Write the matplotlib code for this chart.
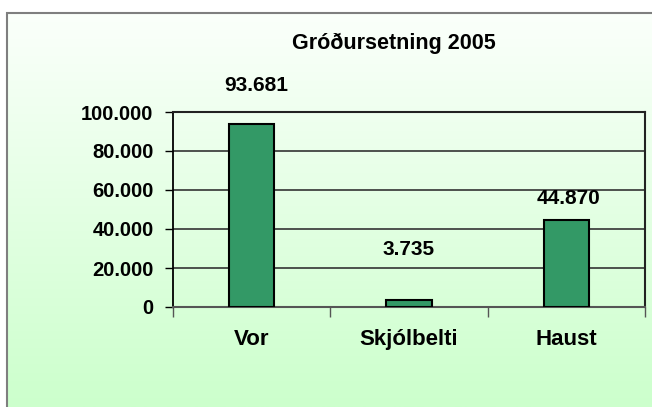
# grodursetning_2005.py
# Bar chart of plantings in 2005 (Vor / Skjólbelti / Haust), Excel-style look.

import numpy as np
import matplotlib
matplotlib.use("Agg")
import matplotlib.pyplot as plt
from matplotlib.ticker import FuncFormatter, FixedLocator
from matplotlib.colors import LinearSegmentedColormap
from matplotlib.patches import Rectangle

plt.rcParams["font.family"] = ["Liberation Sans", "DejaVu Sans"]
plt.rcParams["font.weight"] = "bold"

# data
categories = ["Vor", "Skjólbelti", "Haust"]
values = [93681, 3735, 44870]
title = "Gróðursetning 2005"

# label offsets (pixels) above each bar top, as placed in the original
label_dx = [5, 0, 2]
label_dy = [39, 50, 21]

W, H = 652, 407
fig = plt.figure(figsize=(W / 100, H / 100), dpi=100)
fig.patch.set_facecolor("white")

# chart area: gradient fill white -> light green, gray frame
bx0, by0 = 7 / W, 0.0
bg = fig.add_axes([bx0, by0, 1 - bx0 + 0.01, 1 - 13 / H - by0])
cmap = LinearSegmentedColormap.from_list("g", ["#fbfffb", "#ccffcc"])
grad = np.linspace(0, 1, 256).reshape(-1, 1)
bg.imshow(grad, aspect="auto", cmap=cmap, extent=[0, 1, 0, 1], origin="upper")
bg.set_xlim(0, 1)
bg.set_ylim(0, 1)
bg.axis("off")
bg.add_patch(Rectangle((0.0, -0.1), 1.2, 1.1, fill=False, edgecolor="#7f7f7f",
                       linewidth=1.5, transform=bg.transAxes, clip_on=False))

# plot area
left, right, top, bottom = 173, 645, 112, 307
ax = fig.add_axes([left / W, 1 - bottom / H, (right - left) / W, (bottom - top) / H])
ax.set_facecolor("none")

x = np.arange(len(categories))
bars = ax.bar(x, values, width=0.29, color="#339966", edgecolor="black",
              linewidth=1.5, zorder=3)

ax.set_xlim(-0.5, len(categories) - 0.5)
ax.set_ylim(0, 100000)
ax.set_yticks(np.arange(0, 100001, 20000))
ax.yaxis.set_major_formatter(FuncFormatter(lambda v, p: f"{int(v):,}".replace(",", ".")))
ax.yaxis.grid(True, color="#333333", linewidth=1.2, zorder=0)
ax.set_axisbelow(True)

ax.set_xticks(x)
ax.set_xticklabels(categories)
ax.xaxis.set_minor_locator(FixedLocator(np.arange(-0.5, len(categories), 1.0)))
ax.tick_params(axis="x", which="major", length=0, pad=16, labelsize=16)
ax.tick_params(axis="x", which="minor", length=7, width=1, color="#555555")
ax.tick_params(axis="y", length=6, width=1, pad=8, labelsize=14.5)

for s in ["top", "right"]:
    ax.spines[s].set_color("#222222")
    ax.spines[s].set_linewidth(1.5)
ax.spines["left"].set_color("black")
ax.spines["left"].set_linewidth(1.3)
ax.spines["bottom"].set_color("#555555")
ax.spines["bottom"].set_linewidth(1.5)

for b, v, dx, dy in zip(bars, values, label_dx, label_dy):
    ax.annotate(f"{v:,}".replace(",", "."),
                xy=(b.get_x() + b.get_width() / 2, v),
                xytext=(dx, dy), textcoords="offset pixels",
                ha="center", va="center", fontsize=15, fontweight="bold",
                annotation_clip=False)

fig.text(394 / W, 1 - 43 / H, title, ha="center", va="center",
         fontsize=15.5, fontweight="bold")

fig.savefig("out.png", dpi=100)
